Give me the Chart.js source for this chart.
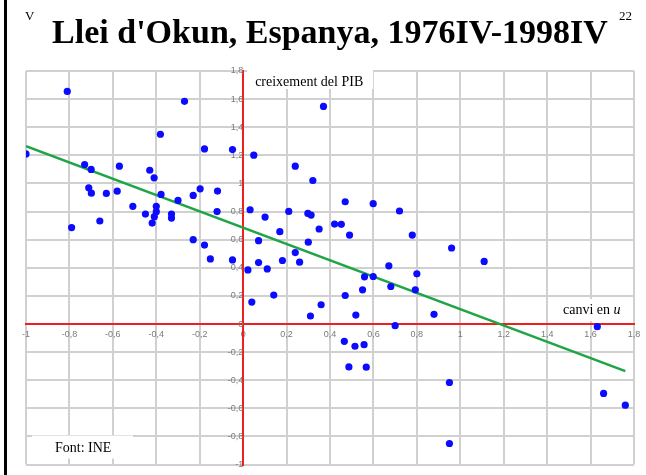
<!DOCTYPE html>
<html>
<head>
<meta charset="utf-8">
<script src="https://cdn.jsdelivr.net/npm/chart.js@4.4.1/dist/chart.umd.min.js"></script>
<style>
  html, body { margin: 0; padding: 0; background: #fff; }
  #wrap { position: relative; width: 646px; height: 475px; }
</style>
</head>
<body>
<div id="wrap"><canvas id="c" width="646" height="475"></canvas></div>
<script>
// ---- Data ----
const titleText = "Llei d'Okun, Espanya, 1976IV-1998IV";
const xAxisName = 'canvi en ';
const xAxisNameItalic = 'u';
const yAxisName = 'creixement del PIB';
const sourceText = 'Font: INE';
const pageMarkLeft = 'V';
const pageMarkRight = '22';

// change in unemployment rate (x)
const unemploymentChange = [
  -1.0, -0.81, -0.27, -0.381, -0.178, -0.73, -0.70, -0.57, -0.43, -0.41,
  -0.711, -0.699, -0.63, -0.58, -0.378, -0.30, -0.23, -0.198, -0.118, -0.508,
  -0.40, -0.40, -0.45, -0.409, -0.33, -0.33, -0.419, -0.12, -0.66, -0.79,
  -0.23, -0.178, -0.151, -0.049, 0.321, 0.032, 0.101, 0.21, 0.298, 0.313,
  0.47, 0.599, 0.72, 0.421, 0.452, 0.35, 0.169, 0.49, 0.779, 0.071,
  0.30, 0.24, 0.071, 0.181, 0.26, 0.022, 0.111, 0.671, 0.80, 0.559,
  0.599, 0.55, 0.68, 0.793, 0.141, 0.47, 0.04, 0.359, 0.519, 0.31,
  0.70, 0.466, 0.515, 0.557, 0.487, 0.567, 0.95, 0.95, 1.66, 1.76,
  -0.049, 0.049, 0.24, 0.37, 0.96, 1.11, 0.879, 1.631
];
// GDP growth (y)
const gdpGrowth = [
  1.21, 1.655, 1.584, 1.35, 1.246, 1.135, 1.10, 1.123, 1.094, 1.04,
  0.969, 0.931, 0.929, 0.945, 0.922, 0.879, 0.915, 0.962, 0.946, 0.837,
  0.837, 0.799, 0.782, 0.764, 0.782, 0.754, 0.718, 0.80, 0.733, 0.686,
  0.60, 0.562, 0.463, 0.456, 1.021, 0.813, 0.761, 0.801, 0.787, 0.775,
  0.87, 0.856, 0.804, 0.711, 0.709, 0.676, 0.657, 0.633, 0.633, 0.593,
  0.582, 0.508, 0.437, 0.452, 0.44, 0.385, 0.392, 0.414, 0.357, 0.336,
  0.338, 0.243, 0.267, 0.243, 0.206, 0.203, 0.156, 0.137, 0.064, 0.057,
  -0.012, -0.123, -0.158, -0.147, -0.305, -0.307, -0.416, -0.85, -0.494, -0.577,
  1.241, 1.201, 1.123, 1.548, 0.541, 0.445, 0.069, -0.019
];
// fitted regression line end points
const fitLineX = [-1.0, 1.76];
const fitLineY = [1.265, -0.335];

// ticks (same for both axes)
const tickValues = [-1, -0.8, -0.6, -0.4, -0.2, 0, 0.2, 0.4, 0.6, 0.8, 1, 1.2, 1.4, 1.6, 1.8];
const tickLabels = ['-1', '-0,8', '-0,6', '-0,4', '-0,2', '0', '0,2', '0,4', '0,6', '0,8', '1', '1,2', '1,4', '1,6', '1,8'];

// ---- Build chart ----
const pointData = unemploymentChange.map((v, i) => ({ x: v, y: gdpGrowth[i] }));
const lineData = fitLineX.map((v, i) => ({ x: v, y: fitLineY[i] }));

const GRID = '#d0d0d0';
const RED = '#f21d1d';
const TICK_FONT = { family: '"Liberation Sans", Arial, sans-serif', size: 9 };

function axisConfig(posObj) {
  return {
    type: 'linear',
    min: -1,
    max: 1.8,
    position: posObj,
    afterBuildTicks: s => { s.ticks = tickValues.map(v => ({ value: v })); },
    ticks: {
      callback: (v, i) => tickLabels[i],
      font: TICK_FONT,
      color: '#7a7a7a',
      padding: 5,
      autoSkip: false,
      maxRotation: 0
    },
    grid: {
      color: c => (c.tick && Math.abs(c.tick.value) < 1e-9) ? 'rgba(0,0,0,0)' : GRID,
      lineWidth: 2,
      drawTicks: false
    },
    border: { color: RED, width: 2 }
  };
}

const serif = '"Liberation Serif", "Times New Roman", serif';

const annotations = {
  id: 'annotations',
  afterDraw(chart) {
    const { ctx, chartArea, scales } = chart;
    const xs = scales.x, ys = scales.y;
    const x0 = xs.getPixelForValue(0);
    const y0 = ys.getPixelForValue(0);
    ctx.save();
    // left black frame line
    ctx.fillStyle = '#000';
    ctx.fillRect(4, 0, 3, chart.height);

    // page marks
    ctx.font = '13px ' + serif;
    ctx.textBaseline = 'alphabetic';
    ctx.textAlign = 'left';
    ctx.fillText(pageMarkLeft, 25, 20);
    ctx.fillText(pageMarkRight, 619, 20);

    // y-axis name with white box
    ctx.fillStyle = '#fff';
    ctx.fillRect(x0 + 4, chartArea.top - 3, 126, 21);
    ctx.fillStyle = '#000';
    ctx.font = '14px ' + serif;
    ctx.textBaseline = 'middle';
    ctx.fillText(yAxisName, x0 + 12, chartArea.top + 11);

    // x-axis name with white box
    const bx = chartArea.right - 79;
    ctx.fillStyle = '#fff';
    ctx.fillRect(bx, y0 - 25, 73, 22);
    ctx.fillStyle = '#000';
    ctx.font = '14px ' + serif;
    ctx.fillText(xAxisName, bx + 8, y0 - 14);
    const w = ctx.measureText(xAxisName).width;
    ctx.font = 'italic 14px ' + serif;
    ctx.fillText(xAxisNameItalic, bx + 8 + w, y0 - 14);

    // source box
    ctx.fillStyle = '#fff';
    ctx.fillRect(chartArea.left + 6, chartArea.bottom - 29, 101, 23);
    ctx.fillStyle = '#000';
    ctx.font = '14px ' + serif;
    ctx.fillText(sourceText, chartArea.left + 29, chartArea.bottom - 16);
    ctx.restore();
  }
};

new Chart(document.getElementById('c'), {
  type: 'scatter',
  data: {
    datasets: [
      {
        label: 'dades',
        data: pointData,
        backgroundColor: '#0b0bff',
        borderColor: '#0b0bff',
        borderWidth: 0,
        pointRadius: 3.6,
        pointHoverRadius: 3.6
      },
      {
        label: 'recta',
        type: 'line',
        data: lineData,
        borderColor: '#1ea545',
        borderWidth: 2.6,
        pointRadius: 0,
        fill: false,
        tension: 0
      }
    ]
  },
  options: {
    responsive: false,
    animation: false,
    events: [],
    layout: { padding: { left: 26, right: 12, top: 0, bottom: 9 } },
    plugins: {
      legend: { display: false },
      tooltip: { enabled: false },
      title: {
        display: true,
        text: titleText,
        color: '#000',
        font: { family: serif, size: 34, weight: 'bold', lineHeight: 1.2 },
        padding: { top: 14, bottom: 16.2 }
      }
    },
    scales: {
      x: axisConfig({ y: 0 }),
      y: axisConfig({ x: 0 })
    }
  },
  plugins: [annotations]
});
</script>
</body>
</html>
